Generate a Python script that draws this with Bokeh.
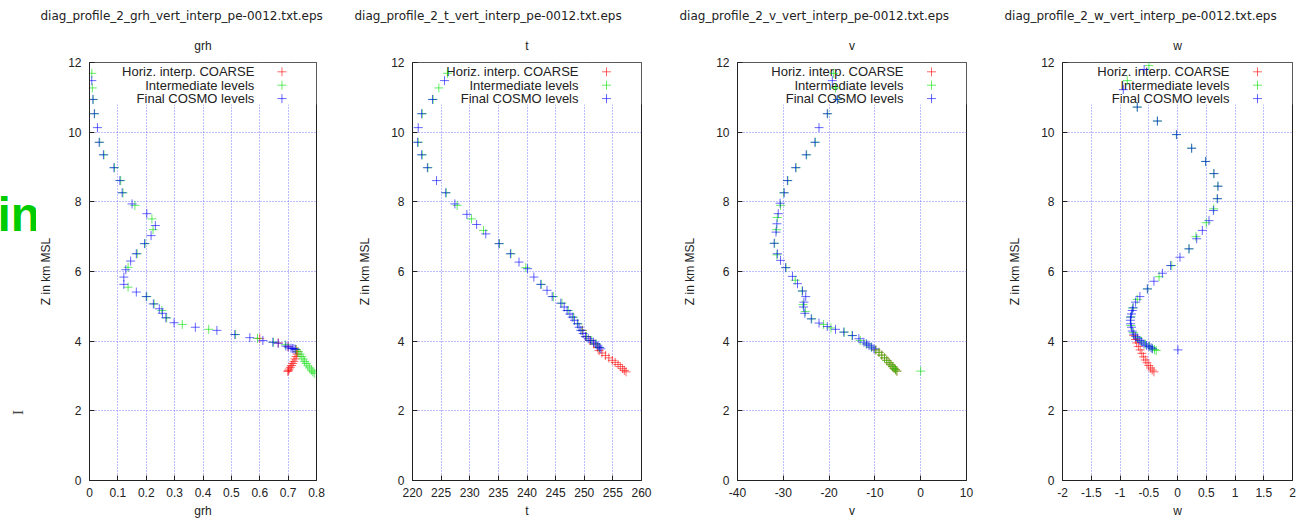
import math
from bokeh.plotting import figure
from bokeh.layouts import row
from bokeh.models import FixedTicker, Label, BoxAnnotation, Title, Range1d
from bokeh.embed import file_html
from bokeh.resources import INLINE

# ---------------- data ----------------
Z_TICKS = [0, 2, 4, 6, 8, 10, 12]
SERIES = ["Horiz. interp. COARSE", "Intermediate levels", "Final COSMO levels"]
COLORS = ["#ff0000", "#00e000", "#0000ff"]

# grh
grh_red_x = [0.600, 0.665, 0.700, 0.728, 0.732, 0.731, 0.728, 0.724, 0.720, 0.716, 0.712, 0.708, 0.704, 0.701, 0.699]
grh_red_z = [4.08, 3.95, 3.85, 3.76, 3.70, 3.63, 3.56, 3.49, 3.42, 3.36, 3.30, 3.25, 3.20, 3.16, 3.13]
grh_grn_x = [0.008, 0.010, 0.013, 0.018, 0.036, 0.051, 0.088, 0.110, 0.118, 0.160, 0.220, 0.224, 0.196, 0.168, 0.136,
             0.136, 0.202, 0.228, 0.255, 0.272, 0.327, 0.420, 0.515, 0.592, 0.648, 0.690,
             0.728, 0.736, 0.742, 0.748, 0.753, 0.758, 0.764, 0.770, 0.776, 0.782, 0.787, 0.792]
grh_grn_z = [11.69, 11.27, 10.94, 10.53, 9.71, 9.35, 8.98, 8.61, 8.26, 7.90, 7.51, 7.20, 6.80, 6.51, 6.12,
             5.55, 5.28, 5.07, 4.88, 4.67, 4.48, 4.34, 4.19, 4.08, 3.97, 3.90,
             3.76, 3.70, 3.63, 3.56, 3.49, 3.42, 3.36, 3.29, 3.23, 3.17, 3.12, 3.08]
grh_blu_x = [0.008, 0.012, 0.017, 0.028, 0.034, 0.049, 0.086, 0.107, 0.115, 0.150, 0.202, 0.232, 0.217, 0.194, 0.165,
             0.145, 0.128, 0.121, 0.121, 0.165, 0.200, 0.225, 0.246, 0.257, 0.269, 0.298, 0.373, 0.449, 0.512,
             0.565, 0.611, 0.646, 0.665, 0.692, 0.700, 0.710, 0.715, 0.720, 0.725]
grh_blu_z = [11.48, 10.94, 10.53, 10.13, 9.71, 9.35, 8.98, 8.61, 8.26, 7.94, 7.66, 7.32, 7.03, 6.80, 6.51,
             6.30, 6.05, 5.84, 5.63, 5.41, 5.28, 5.07, 4.93, 4.80, 4.67, 4.53, 4.40, 4.31, 4.19,
             4.10, 4.02, 3.97, 3.94, 3.86, 3.83, 3.80, 3.79, 3.78, 3.77]

# t
t_red_x = [249.7, 250.3, 251.0, 251.7, 252.3, 252.6, 253.1, 253.7, 254.3, 254.9, 255.4, 255.9, 256.3, 256.7, 257.0, 257.3]
t_red_z = [4.31, 4.13, 4.02, 3.92, 3.82, 3.73, 3.66, 3.59, 3.52, 3.45, 3.39, 3.33, 3.27, 3.21, 3.16, 3.12]
t_grn_x = [226.1, 224.6, 223.6, 221.7, 221.0, 221.7, 222.7, 225.9, 227.8, 230.3, 232.4, 235.2, 237.2, 239.8, 242.5,
           244.6, 246.1, 247.2, 248.1, 248.9, 249.6, 250.4, 251.3, 252.1, 252.6]
t_grn_z = [11.69, 11.27, 10.94, 10.53, 9.71, 9.35, 8.98, 8.26, 7.90, 7.51, 7.18, 6.80, 6.51, 6.11, 5.63,
           5.28, 5.09, 4.88, 4.69, 4.50, 4.31, 4.13, 4.02, 3.92, 3.82]
t_blu_x = [225.6, 223.5, 221.6, 221.0, 220.9, 221.6, 222.6, 224.2, 225.8, 227.4, 229.5, 231.2, 232.8, 235.1, 237.1,
           238.6, 240.1, 241.2, 242.4, 243.5, 244.4, 245.9, 246.5, 247.0, 247.5, 247.9, 248.3, 248.8, 249.1,
           249.4, 249.8, 250.2, 250.7, 251.1, 251.6, 252.0, 252.4, 252.7, 252.9]
t_blu_z = [11.48, 10.94, 10.53, 10.13, 9.71, 9.35, 8.98, 8.61, 8.26, 7.94, 7.64, 7.35, 7.08, 6.80, 6.51,
           6.27, 6.08, 5.84, 5.63, 5.46, 5.28, 5.09, 4.98, 4.88, 4.78, 4.69, 4.60, 4.50, 4.40,
           4.31, 4.22, 4.13, 4.07, 4.02, 3.97, 3.92, 3.86, 3.82, 3.78]

# v
v_red_x = [-9.8, -9.1, -8.5, -7.9, -7.4, -6.9, -6.5, -6.1, -5.8, -5.5, -5.2]
v_red_z = [3.75, 3.68, 3.60, 3.52, 3.45, 3.38, 3.32, 3.27, 3.22, 3.18, 3.14]
v_grn_x = [-19.0, -18.6, -18.1, -20.3, -23.0, -24.9, -27.2, -29.0, -29.9, -30.6, -31.3, -31.5, -31.9, -31.4, -29.4,
           -27.4, -25.9, -25.7, -25.2, -23.8, -21.2, -19.6, -16.7, -15.0, -13.2, -11.9, -10.8, -9.8, -9.1,
           -8.5, -7.9, -7.4, -6.9, -6.5, -6.1, -5.8, -5.5, -5.2, 0.0]
v_grn_z = [11.69, 11.27, 10.94, 10.53, 9.71, 9.35, 8.98, 8.61, 8.26, 7.90, 7.55, 7.20, 6.81, 6.48, 6.11,
           5.75, 5.44, 5.05, 4.85, 4.64, 4.48, 4.38, 4.26, 4.16, 4.02, 3.92, 3.83, 3.75, 3.68,
           3.60, 3.52, 3.45, 3.38, 3.32, 3.27, 3.22, 3.18, 3.14, 3.14]
v_blu_x = [-19.3, -18.2, -20.4, -22.2, -23.1, -25.0, -27.3, -29.1, -29.8, -30.7, -31.1, -31.4, -31.6, -32.0, -31.3,
           -30.6, -29.5, -28.0, -26.9, -25.8, -25.1, -25.5, -25.6, -25.3, -23.9, -22.2, -20.4, -18.6, -16.8,
           -14.9, -13.5, -12.4, -11.8, -11.3, -10.7, -10.2]
v_blu_z = [11.48, 10.94, 10.53, 10.13, 9.71, 9.35, 8.98, 8.61, 8.26, 7.96, 7.66, 7.37, 7.13, 6.81, 6.51,
           6.32, 6.11, 5.86, 5.65, 5.44, 5.28, 5.12, 4.98, 4.80, 4.64, 4.52, 4.42, 4.34, 4.26,
           4.16, 4.07, 3.97, 3.92, 3.88, 3.83, 3.78]

# w
w_red_x = [-0.76, -0.73, -0.71, -0.68, -0.65, -0.62, -0.59, -0.56, -0.53, -0.50, -0.47, -0.44, -0.41]
w_red_z = [4.16, 4.05, 3.95, 3.85, 3.75, 3.65, 3.55, 3.46, 3.38, 3.30, 3.23, 3.17, 3.12]
w_grn_x = [-0.497, -0.873, -0.70, -0.35, -0.02, 0.245, 0.49, 0.63, 0.70, 0.69, 0.63, 0.50, 0.32, 0.20, -0.10,
           -0.32, -0.52, -0.70, -0.78, -0.81, -0.81, -0.77, -0.70, -0.63, -0.56, -0.49, -0.44, -0.40, -0.37]
w_grn_z = [11.91, 11.48, 10.72, 10.32, 9.93, 9.54, 9.16, 8.81, 8.45, 8.09, 7.80, 7.40, 7.00, 6.65, 6.17,
           5.85, 5.50, 5.20, 4.95, 4.70, 4.45, 4.25, 4.10, 4.00, 3.92, 3.85, 3.80, 3.76, 3.73]
w_blu_x = [-0.58, -0.943, -0.70, -0.35, -0.015, 0.247, 0.49, 0.635, 0.705, 0.694, 0.624, 0.548, 0.432, 0.334, 0.20,
           0.043, -0.12, -0.263, -0.41, -0.525, -0.654, -0.729, -0.77, -0.786, -0.80, -0.816, -0.82, -0.816,
           -0.80, -0.786, -0.76, -0.729, -0.69, -0.654, -0.62, -0.584, -0.54, -0.497, -0.46, -0.438, 0.008]
w_blu_z = [11.80, 11.22, 10.72, 10.32, 9.93, 9.54, 9.16, 8.81, 8.45, 8.09, 7.75, 7.46, 7.18, 6.94, 6.65,
           6.41, 6.17, 5.95, 5.72, 5.50, 5.28, 5.12, 4.96, 4.88, 4.78, 4.69, 4.60, 4.50,
           4.40, 4.29, 4.20, 4.13, 4.07, 4.02, 3.97, 3.92, 3.88, 3.85, 3.81, 3.78, 3.75]

grh_ticks = [0, 0.1, 0.2, 0.3, 0.4, 0.5, 0.6, 0.7, 0.8]
t_ticks = [220, 225, 230, 235, 240, 245, 250, 255, 260]
v_ticks = [-40, -30, -20, -10, 0, 10]
w_ticks = [-2, -1.5, -1, -0.5, 0, 0.5, 1, 1.5, 2]

PANELS = [
    dict(var="grh", ticks=grh_ticks, series=[(grh_red_x, grh_red_z), (grh_grn_x, grh_grn_z), (grh_blu_x, grh_blu_z)]),
    dict(var="t", ticks=t_ticks, series=[(t_red_x, t_red_z), (t_grn_x, t_grn_z), (t_blu_x, t_blu_z)]),
    dict(var="v", ticks=v_ticks, series=[(v_red_x, v_red_z), (v_grn_x, v_grn_z), (v_blu_x, v_blu_z)]),
    dict(var="w", ticks=w_ticks, series=[(w_red_x, w_red_z), (w_grn_x, w_grn_z), (w_blu_x, w_blu_z)]),
]

# ---------------- layout ----------------
STRIP = 36                      # narrow strip at far left (stray page texts)
WIDTHS = [330 - STRIP, 325, 330, 316]
LEFT = [86 - STRIP, 82, 82, 77]
RIGHT = [14, 14, 19, 9]
TITLE_OFFSET = [-49, -58, -58, -58]
TOP, BOTTOM, HEIGHT = 62, 40, 520
FONT = "Liberation Sans"


def fmt(v):
    return ("%g" % v)


# left strip with the stray texts of the page; its frame is aligned with the
# panels' frames, so its y range is expressed as (HEIGHT - page pixel row)
s = figure(width=STRIP, height=HEIGHT, output_backend="svg", toolbar_location=None,
           x_range=Range1d(0, STRIP), y_range=Range1d(BOTTOM, HEIGHT - TOP),
           x_axis_location=None, y_axis_location=None,
           min_border_left=0, min_border_right=0, min_border_top=TOP, min_border_bottom=BOTTOM)
s.title.visible = False
s.outline_line_color = None
s.xgrid.visible = False
s.ygrid.visible = False
s.add_layout(Label(x=-3, y=HEIGHT - 214, text="in", text_align="left", text_baseline="middle",
                   text_font="Liberation Sans", text_font_size="48px", text_font_style="bold",
                   text_color="#00cc00"))
s.add_layout(Label(x=17, y=HEIGHT - 412, text="I", angle=math.pi / 2, text_align="center",
                   text_baseline="middle", text_font="Liberation Serif", text_font_size="15px",
                   text_color="#444444"))

figs = [s]
for i, pnl in enumerate(PANELS):
    ticks = pnl["ticks"]
    x0, x1 = ticks[0], ticks[-1]
    fw = WIDTHS[i] - LEFT[i] - RIGHT[i]
    fh = HEIGHT - TOP - BOTTOM
    p = figure(width=WIDTHS[i], height=HEIGHT, output_backend="svg", toolbar_location=None,
               x_range=Range1d(x0, x1), y_range=Range1d(0, 12),
               min_border_left=LEFT[i], min_border_right=RIGHT[i],
               min_border_top=TOP, min_border_bottom=BOTTOM)
    # outer title: file name
    p.title.text = "diag_profile_2_%s_vert_interp_pe-0012.txt.eps" % pnl["var"]
    p.title.align = "left"
    p.title.offset = TITLE_OFFSET[i]
    p.title.text_font = "DejaVu Sans"
    p.title.text_font_size = "12px"
    p.title.text_font_style = "normal"
    p.title.text_color = "#222222"
    p.title.standoff = 8
    # inner title: variable name
    vt = Title(text=pnl["var"], align="center", text_font=FONT, text_font_size="12px",
               text_font_style="normal", text_color="#222222", standoff=20)
    p.add_layout(vt, "above")

    p.outline_line_color = "#222222"
    p.outline_line_width = 1
    for ax in (p.xaxis[0], p.yaxis[0]):
        ax.axis_line_color = "#222222"
        ax.major_tick_in = 5
        ax.major_tick_out = 0
        ax.major_tick_line_color = "#222222"
        ax.minor_tick_line_color = None
        ax.major_label_text_font = FONT
        ax.major_label_text_font_size = "12px"
        ax.major_label_text_color = "#222222"
        ax.axis_label_text_font = FONT
        ax.axis_label_text_font_size = "12px"
        ax.axis_label_text_font_style = "normal"
        ax.axis_label_text_color = "#222222"
    p.xaxis.ticker = FixedTicker(ticks=ticks)
    p.xaxis.major_label_overrides = {t: fmt(t) for t in ticks}
    p.xaxis.axis_label = pnl["var"]
    p.xaxis.major_label_standoff = 7
    p.xaxis.axis_label_standoff = 4
    p.yaxis.ticker = FixedTicker(ticks=Z_TICKS)
    p.yaxis.axis_label = "Z in km MSL"
    p.yaxis.major_label_standoff = 8
    p.yaxis.axis_label_standoff = 12 if i == 0 else 16

    for g in (p.xgrid[0], p.ygrid[0]):
        g.grid_line_color = "#5a5aff"
        g.grid_line_dash = "1 2"
        g.grid_line_alpha = 0.8

    # white key area (gnuplot key blanks the grid behind it)
    key_bottom = 12 - (104 - 62) / fh * 12
    p.add_layout(BoxAnnotation(bottom=key_bottom, fill_color="white", fill_alpha=1.0,
                               line_alpha=0, level="underlay"))
    dx = (x1 - x0) / fw
    for k, (name, col) in enumerate(zip(SERIES, COLORS)):
        yk = 12 - (9.3 + 13.4 * k) / fh * 12
        p.add_layout(Label(x=x1 - 63 * dx, y=yk, text=name, text_align="right", text_baseline="middle",
                           text_font=FONT, text_font_size="13px", text_color="#222222", level="underlay"))
        p.scatter(x=[x1 - 35 * dx], y=[yk], marker="cross", size=9, line_color=col, line_alpha=0.6,
                  line_width=1)

    for (xs, zs), col in zip(pnl["series"], COLORS):
        p.scatter(x=xs, y=zs, marker="cross", size=9, line_color=col, line_alpha=0.6, line_width=1)
    figs.append(p)

layout = row(*figs)
open("out.html", "w").write(file_html(layout, INLINE))
